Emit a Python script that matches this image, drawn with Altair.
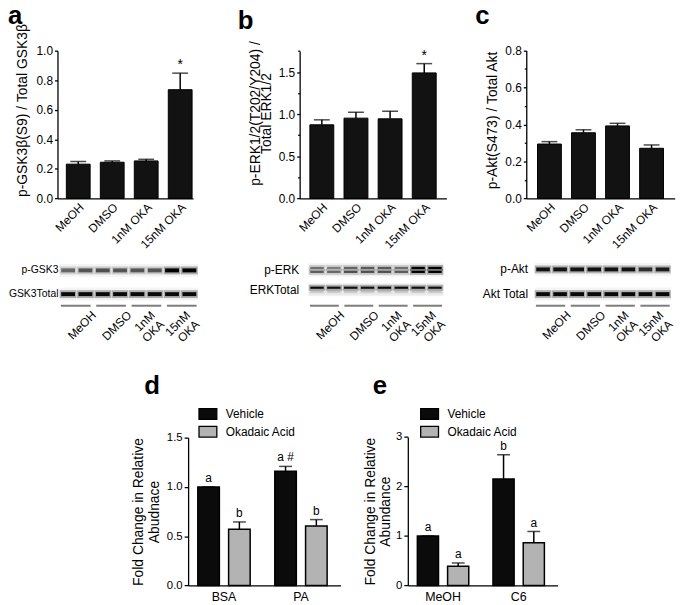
import altair as alt
import pandas as pd

W, H = 676, 600
FONT = "Liberation Sans"

# ---------------- data ----------------
cats = ["MeOH", "DMSO", "1nM OKA", "15nM OKA"]

gsk_mean = [0.232, 0.245, 0.254, 0.736]
gsk_err = [0.018, 0.009, 0.011, 0.112]
gsk_sig = ["", "", "", "*"]

erk_mean = [0.874, 0.953, 0.945, 1.490]
erk_err = [0.059, 0.070, 0.090, 0.110]
erk_sig = ["", "", "", "*"]

akt_mean = [0.294, 0.355, 0.392, 0.271]
akt_err = [0.013, 0.016, 0.014, 0.018]
akt_sig = ["", "", "", ""]

lanes = ["1", "2", "3", "4", "5", "6", "7", "8"]
group_labels = ["MeOH", "DMSO", "1nM\nOKA", "15nM\nOKA"]

gsk_rows = ["p-GSK3", "GSK3Total"]
p_gsk = [0.50, 0.58, 0.60, 0.58, 0.58, 0.58, 1.00, 1.00]
t_gsk = [0.95, 0.95, 0.95, 0.95, 0.95, 0.95, 0.95, 0.95]

erk_rows = ["p-ERK", "ERKTotal"]
p_erk_up = [0.45, 0.40, 0.50, 0.55, 0.55, 0.45, 1.00, 1.00]
p_erk_lo = [0.55, 0.50, 0.60, 0.60, 0.60, 0.55, 1.00, 1.00]
t_erk_up = [0.95, 0.90, 0.90, 0.90, 0.95, 0.95, 0.90, 0.90]
t_erk_lo = [0.15, 0.15, 0.15, 0.15, 0.15, 0.15, 0.15, 0.15]

akt_rows = ["p-Akt", "Akt Total"]
p_akt = [0.90, 0.90, 0.90, 0.90, 0.90, 0.90, 0.75, 0.85]
t_akt = [0.95, 0.95, 0.95, 0.95, 0.95, 0.95, 0.95, 0.95]

treat = ["Vehicle", "Okadaic Acid"]
d_groups = ["BSA", "PA"]
d_mean = [1.000, 0.570, 1.158, 0.604]
d_err = [0.000, 0.074, 0.050, 0.064]
d_sig = ["a", "b", "a #", "b"]

e_groups = ["MeOH", "C6"]
e_mean = [1.000, 0.387, 2.150, 0.860]
e_err = [0.000, 0.066, 0.490, 0.230]
e_sig = ["a", "a", "b", "a"]

letters = ["a", "b", "c", "d", "e"]

# ---------------- helpers ----------------
AX = dict(labelFont=FONT, titleFont=FONT, domainColor="black", tickColor="black",
          labelColor="black", titleColor="black", grid=False, domainWidth=1.3,
          tickWidth=1.3)


def top_panel(letter, means, errs, sig, title, ydomain, yvals, minor, xr, yr,
              align, pad_outer, title_x, title_y, title_lh, ldx, ldy):
    df = pd.DataFrame({"cat": cats, "mean": means,
                       "top": [m + e for m, e in zip(means, errs)], "sig": sig})

    def xs():
        return alt.Scale(type="band", domain=cats, range=xr, paddingInner=0.3,
                         paddingOuter=pad_outer, align=align)

    def ys():
        return alt.Scale(domain=ydomain, range=yr, nice=False, zero=True)

    base = alt.Chart(df)
    bars = base.mark_bar(color="#121212", stroke="black", strokeWidth=1).encode(
        x=alt.X("cat:N", scale=xs(),
                axis=alt.Axis(orient="bottom", offset=yr[0] - H, labelAngle=315,
                              ticks=False, labelPadding=3, labelFontSize=12,
                              title=None, **AX)),
        y=alt.Y("mean:Q", scale=ys(),
                axis=alt.Axis(orient="left", offset=-xr[0], values=yvals, format=".1f",
                              tickSize=3, labelPadding=2, labelFontSize=12,
                              title=title, titleFontSize=14, titleFontWeight="normal",
                              titleX=title_x, titleY=title_y, titleLineHeight=title_lh,
                              **AX)))
    rule = base.mark_rule(color="black", strokeWidth=1.5).encode(
        x=alt.X("cat:N", scale=xs(), axis=None),
        y=alt.Y("mean:Q", scale=ys(), axis=None), y2="top:Q")
    cap = base.mark_tick(color="black", thickness=1.5, size=16).encode(
        x=alt.X("cat:N", scale=xs(), axis=None),
        y=alt.Y("top:Q", scale=ys(), axis=None))
    star = base.mark_text(font=FONT, fontSize=14, color="black", baseline="alphabetic",
                          dy=-4).encode(
        x=alt.X("cat:N", scale=xs(), bandPosition=0.5, axis=None),
        y=alt.Y("top:Q", scale=ys(), axis=None), text="sig:N")
    lab = alt.Chart(pd.DataFrame({"cat": [cats[0]], "letter": [letter]})).mark_text(
        font=FONT, fontSize=26, fontWeight="bold", color="black", align="left",
        baseline="alphabetic", dx=ldx, dy=ldy).encode(
        x=alt.X("cat:N", scale=xs(), bandPosition=0, axis=None),
        y=alt.YDatum(ydomain[1], scale=ys(), axis=None), text="letter:N")
    layers = [bars, rule, cap, star, lab]
    if minor:
        mt = base.mark_tick(opacity=0).encode(
            x=alt.X("cat:N", scale=xs(), axis=None),
            y=alt.Y("mean:Q", scale=ys(),
                    axis=alt.Axis(orient="left", offset=-xr[0], values=minor,
                                  labels=False, domain=False, tickSize=2,
                                  title=None, **AX)))
        layers.append(mt)
    return layers


def blot(rows, bands, xr, yr, label_pad, label_size=12, doublet=False):
    recs = []
    for r, vals in zip(rows, bands):
        if doublet:
            for sub, vv in zip(["u", "l"], vals):
                for ln, v in zip(lanes, vv):
                    recs.append({"row": r, "sub": sub, "lane": ln, "v": v, "h": v * 0.3})
        else:
            for ln, v in zip(lanes, vals):
                recs.append({"row": r, "sub": "m", "lane": ln, "v": v, "h": v * 0.3})
    df = pd.DataFrame(recs)
    step = (xr[1] - xr[0]) / len(lanes)
    rstep = (yr[1] - yr[0]) / len(rows)

    def x():
        return alt.X("lane:N", scale=alt.Scale(type="band", domain=lanes, range=xr,
                                               paddingInner=0, paddingOuter=0), axis=None)

    def y(axis=None):
        return alt.Y("row:N", scale=alt.Scale(type="band", domain=rows, range=yr,
                                              paddingInner=0, paddingOuter=0), axis=axis)

    def extra():
        if not doublet:
            return {}
        return {"yOffset": alt.YOffset(
            "sub:N", scale=alt.Scale(type="band", domain=["u", "l"],
                                     range=[rstep / 2 - 4, rstep / 2 + 4],
                                     paddingInner=0, paddingOuter=0))}

    base = alt.Chart(df)
    bg = base.mark_tick(orient="horizontal", color="#f0f0f0", size=step,
                        thickness=13).encode(
        x=x(), y=y(alt.Axis(orient="left", offset=-xr[0], domain=False, ticks=False,
                            labelPadding=label_pad, labelFontSize=label_size,
                            title=None, **AX)))
    halo = base.mark_tick(orient="horizontal", color="black", size=step - 0.5,
                          thickness=6 if doublet else 8).encode(
        x=x(), y=y(), opacity=alt.Opacity("h:Q", scale=None), **extra())
    core = base.mark_tick(orient="horizontal", color="black", size=step - 3.5,
                          thickness=2.2 if doublet else 4).encode(
        x=x(), y=y(), opacity=alt.Opacity("v:Q", scale=None), **extra())
    return [bg, halo, core]


def blot_groups(xr, line_y):
    df = pd.DataFrame({"grp": cats, "label": group_labels,
                       "multi": ["n", "n", "y", "y"]})
    pi, po = 0.16, 0.04
    stp = (xr[1] - xr[0]) / (len(cats) - pi + 2 * po)
    bw = stp * (1 - pi)

    def x(bp=0.5):
        return alt.X("grp:N", scale=alt.Scale(type="band", domain=cats, range=xr,
                                              paddingInner=pi, paddingOuter=po),
                     bandPosition=bp, axis=None)

    def y(v):
        return alt.YDatum(v, scale=alt.Scale(type="band", domain=["line", "label"],
                                             range=[line_y - 2, line_y + 6],
                                             paddingInner=0, paddingOuter=0), axis=None)

    base = alt.Chart(df)
    line = base.mark_tick(orient="horizontal", color="#444444", size=bw,
                          thickness=2).encode(x=x(), y=y("line"))
    single = base.transform_filter("datum.multi == 'n'").mark_text(
        font=FONT, fontSize=12, color="black", angle=315, align="right", baseline="top",
        lineBreak="\n").encode(x=x(1.0), y=y("label"), text="label:N")
    multi = base.transform_filter("datum.multi == 'y'").mark_text(
        font=FONT, fontSize=12, color="black", angle=315, align="right", baseline="top",
        lineBreak="\n", lineHeight=13).encode(x=x(0.6), y=y("label"), text="label:N")
    return [line, single, multi]


def grouped_panel(letter, groups, means, errs, sig, title, ydomain, yvals, fmt,
                  xr, yr, lx, ly, title_x, ldx, ldy):
    g = [gg for gg in groups for _ in treat]
    t = [tt for _ in groups for tt in treat]
    df = pd.DataFrame({"grp": g, "treat": t, "mean": means,
                       "top": [m + e for m, e in zip(means, errs)], "sig": sig})
    off_pi = 0.3
    # centre of each sub-bar as a fraction of the group band
    sub_pos = [(k + (1 - off_pi) / 2) / (len(treat) - off_pi) for k in range(len(treat))]

    def xs():
        return alt.Scale(type="band", domain=groups, range=xr, paddingInner=0.32,
                         paddingOuter=0.15, align=0.42)

    def ys():
        return alt.Scale(domain=ydomain, range=yr, nice=False, zero=True)

    def xo():
        return alt.XOffset("treat:N", scale=alt.Scale(type="band", domain=treat,
                                                      paddingInner=off_pi,
                                                      paddingOuter=0))

    base = alt.Chart(df)
    bars = base.mark_bar(stroke="black", strokeWidth=1.5).encode(
        x=alt.X("grp:N", scale=xs(),
                axis=alt.Axis(orient="bottom", offset=yr[0] - H, labelAngle=0,
                              ticks=False, labelPadding=5, labelFontSize=12.5,
                              title=None, **AX)),
        xOffset=xo(),
        y=alt.Y("mean:Q", scale=ys(), stack=None,
                axis=alt.Axis(orient="left", offset=-xr[0], values=yvals, format=fmt,
                              tickSize=4, labelPadding=2, labelFontSize=11.5,
                              title=title, titleFontSize=14, titleFontWeight="normal",
                              titleX=title_x, titleLineHeight=16, **AX)),
        color=alt.Color("treat:N",
                        scale=alt.Scale(domain=treat, range=["#0b0b0b", "#b3b3b3"]),
                        title=None,
                        legend=alt.Legend(orient="none", legendX=lx, legendY=ly,
                                          symbolType="M-1,-0.6L1,-0.6L1,0.6L-1,0.6Z",
                                          symbolSize=324, symbolStrokeColor="black",
                                          symbolStrokeWidth=1.3, symbolOpacity=1,
                                          labelFont=FONT, labelFontSize=12,
                                          labelColor="black", labelOffset=8,
                                          rowPadding=-1.3, padding=0)))
    rule = base.mark_rule(color="black", strokeWidth=1.5).encode(
        x=alt.X("grp:N", scale=xs(), axis=None), xOffset=xo(),
        y=alt.Y("mean:Q", scale=ys(), axis=None), y2="top:Q")
    cap = base.mark_tick(color="black", thickness=1.5, size=13).encode(
        x=alt.X("grp:N", scale=xs(), axis=None), xOffset=xo(),
        y=alt.Y("top:Q", scale=ys(), axis=None))
    txts = []
    for tr, bp in zip(treat, sub_pos):
        txts.append(base.transform_filter(alt.datum.treat == tr).mark_text(
            font=FONT, fontSize=12, color="black", baseline="alphabetic", dy=-5).encode(
            x=alt.X("grp:N", scale=xs(), bandPosition=bp, axis=None),
            y=alt.Y("top:Q", scale=ys(), axis=None), text="sig:N"))
    lab = alt.Chart(pd.DataFrame({"grp": [groups[0]], "letter": [letter]})).mark_text(
        font=FONT, fontSize=26, fontWeight="bold", color="black", align="left",
        baseline="alphabetic", dx=ldx, dy=ldy).encode(
        x=alt.X("grp:N", scale=xs(), bandPosition=0, axis=None),
        y=alt.YDatum(ydomain[1], scale=ys(), axis=None), text="letter:N")
    return [bars, rule, cap] + txts + [lab]


# ---------------- panels ----------------
layers = []
layers += top_panel(letters[0], gsk_mean, gsk_err, gsk_sig, "p-GSK3β(S9) / Total GSK3β",
                    [0, 1.0], [0, 0.2, 0.4, 0.6, 0.8, 1.0], None,
                    [50, 187], [189.3, 40], 0.9, 0.145, -28, 100, 15, -59, -27)
layers += top_panel(letters[1], erk_mean, erk_err, erk_sig,
                    ["p-ERK1/2(T202/Y204) /", "Total ERK1/2"],
                    [0, 1.75], [0, 0.5, 1.0, 1.5], [0.25, 0.75, 1.25, 1.75],
                    [294.7, 443], [189.3, 40.3], 0.5, 0.3, -38, 103, 12, -73, -22)
layers += top_panel(letters[2], akt_mean, akt_err, akt_sig, "p-Akt(S473) / Total Akt",
                    [0, 0.8], [0, 0.2, 0.4, 0.6, 0.8], [0.1, 0.3, 0.5, 0.7],
                    [523.7, 673.7], [189.3, 39.7], 0.5, 0.33, -27, 110, 15, -63, -27)

layers += blot(gsk_rows, [p_gsk, t_gsk], [52, 192], [250, 298], 1.5, label_size=10.5)
layers += blot(erk_rows, [[p_erk_up, p_erk_lo], [t_erk_up, t_erk_lo]], [303.7, 440],
               [251.5, 291.5], 10, doublet=True)
layers += blot(akt_rows, [p_akt, t_akt], [532, 670], [248.5, 298.5], 7)

layers += blot_groups([52, 192], 297.7)
layers += blot_groups([303.7, 440], 297.7)
layers += blot_groups([532, 670], 297.7)

layers += grouped_panel(letters[3], d_groups, d_mean, d_err, d_sig,
                        ["Fold Change in Relative", "Abudnace"], [0, 1.5],
                        [0, 0.5, 1.0, 1.5], ".1f", [182, 336], [580.3, 431],
                        192, 397, -43, -54, -44)
layers += grouped_panel(letters[4], e_groups, e_mean, e_err, e_sig,
                        ["Fold Change in Relative", "Abundance"], [0, 3],
                        [0, 1, 2, 3], "d", [404, 555.3], [580.3, 430.3],
                        416, 397, -31, -45, -43)

chart = alt.layer(*layers).resolve_scale(
    x="independent", y="independent", color="independent",
    xOffset="independent", yOffset="independent"
).properties(
    width=W, height=H, padding=0,
    autosize=alt.AutoSizeParams(type="none"),
    background="white",
).configure_view(stroke=None)

chart.save("out.html", embed_options={"renderer": "svg", "actions": False})
